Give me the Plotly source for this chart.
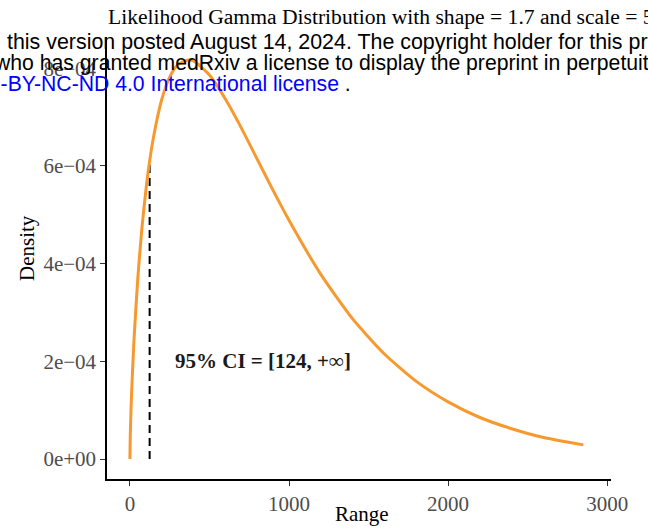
import plotly.graph_objects as go

# Density curve (Range, Density)
range_x = [0, 2, 5, 10, 25, 50, 75, 100, 124, 150, 200, 250, 300, 365, 400, 500,
           600, 700, 800, 900, 1000, 1200, 1400, 1600, 1800, 2000, 2200, 2400,
           2600, 2850]
density_y = [0.0, 0.43e-4, 0.81e-4, 1.30e-4, 2.40e-4, 3.72e-4, 4.71e-4, 5.49e-4,
             6.10e-4, 6.62e-4, 7.36e-4, 7.82e-4, 8.07e-4, 8.17e-4, 8.15e-4,
             7.86e-4, 7.37e-4, 6.78e-4, 6.14e-4, 5.50e-4, 4.89e-4, 3.78e-4,
             2.87e-4, 2.15e-4, 1.59e-4, 1.17e-4, 0.85e-4, 0.62e-4, 0.44e-4,
             0.29e-4]

ci_lower = 124
ci_density = 6.12e-4
ci_label = "95% CI = [124, +∞]"

x_tickvals = [0, 1000, 2000, 3000]
x_ticktext = ["0", "1000", "2000", "3000"]
y_tickvals = [0, 2e-4, 4e-4, 6e-4, 8e-4]
y_ticktext = ["0e+00", "2e\u221204", "4e\u221204", "6e\u221204", "8e\u221204"]

x_title = "Range"
y_title = "Density"
title_text = "Likelihood Gamma Distribution with shape = 1.7 and scale = 521.4"
wm_line1 = "this version posted August 14, 2024. The copyright holder for this preprint (which was not certified by peer review)"
wm_line2 = "who has granted medRxiv a license to display the preprint in perpetuity."
wm_line3_blue = "CC-BY-NC-ND 4.0 International license"
wm_line3_tail = " ."

SERIF = "Liberation Serif, Times New Roman, serif"
SANS = "Liberation Sans, Arial, sans-serif"

fig = go.Figure()
fig.add_trace(go.Scatter(
    x=[ci_lower, ci_lower], y=[0, ci_density], mode="lines",
    line=dict(color="black", width=2, dash="8px,5px"), showlegend=False,
    hoverinfo="skip"))
fig.add_trace(go.Scatter(
    x=range_x, y=density_y, mode="lines",
    line=dict(color="#F7992F", width=3, shape="spline", smoothing=0.6),
    showlegend=False))

L, R, T, B = 107, 37, 37, 50
W, H = 648, 529
pw, ph = W - L - R, H - T - B

def px_x(p):
    return (p - L) / pw

def px_y(p):
    return (H - B - p) / ph

fig.add_annotation(x=270, y=2e-4, xref="x", yref="y", text="<b>" + ci_label + "</b>",
                   showarrow=False, xanchor="left", yanchor="middle",
                   font=dict(family=SERIF, size=21, color="#1a1a1a"))

# axis titles
fig.add_annotation(x=px_x(362), y=px_y(514), xref="paper", yref="paper",
                   text=x_title, showarrow=False, xanchor="center", yanchor="middle",
                   font=dict(family=SERIF, size=21, color="black"))
fig.add_annotation(x=px_x(27), y=px_y(248), xref="paper", yref="paper",
                   text=y_title, showarrow=False, xanchor="center", yanchor="middle",
                   textangle=-90, font=dict(family=SERIF, size=21, color="black"))

fig.add_annotation(x=px_x(106), y=px_y(17), xref="paper", yref="paper",
                   text=title_text, showarrow=False, xanchor="left", yanchor="middle",
                   font=dict(family=SERIF, size=21.6, color="black"))
fig.add_annotation(x=px_x(5), y=px_y(42), xref="paper", yref="paper",
                   text=wm_line1, showarrow=False, xanchor="left", yanchor="middle",
                   font=dict(family=SANS, size=21.4, color="black"))
fig.add_annotation(x=px_x(-8), y=px_y(63), xref="paper", yref="paper",
                   text=wm_line2, showarrow=False, xanchor="left", yanchor="middle",
                   font=dict(family=SANS, size=21.2, color="black"))
fig.add_annotation(x=px_x(-32), y=px_y(84), xref="paper", yref="paper",
                   text="<span style='color:blue'>" + wm_line3_blue + "</span>" + wm_line3_tail,
                   showarrow=False, xanchor="left", yanchor="middle",
                   font=dict(family=SANS, size=21.2, color="black"))

fig.update_layout(
    width=W, height=H,
    margin=dict(l=L, r=R, t=T, b=B, pad=0, autoexpand=False),
    plot_bgcolor="white", paper_bgcolor="white",
    font=dict(family=SERIF, color="black"),
)
fig.update_xaxes(
    range=[-144, 3024], tickvals=x_tickvals, ticktext=x_ticktext, automargin=False,
    showline=True, linecolor="black", linewidth=1.5, showgrid=False, zeroline=False,
    ticks="outside", ticklen=5, tickwidth=1.2, tickcolor="#333333",
    tickfont=dict(family=SERIF, size=21, color="#4D4D4D"),
)
fig.update_yaxes(
    range=[-4.09e-5, 8.64e-4], tickvals=y_tickvals, ticktext=y_ticktext, automargin=False,
    showline=True, linecolor="black", linewidth=1.5, showgrid=False, zeroline=False,
    ticks="outside", ticklen=5, tickwidth=1.2, tickcolor="#333333",
    tickfont=dict(family=SERIF, size=21, color="#4D4D4D"),
)

fig.write_html("out.html")
